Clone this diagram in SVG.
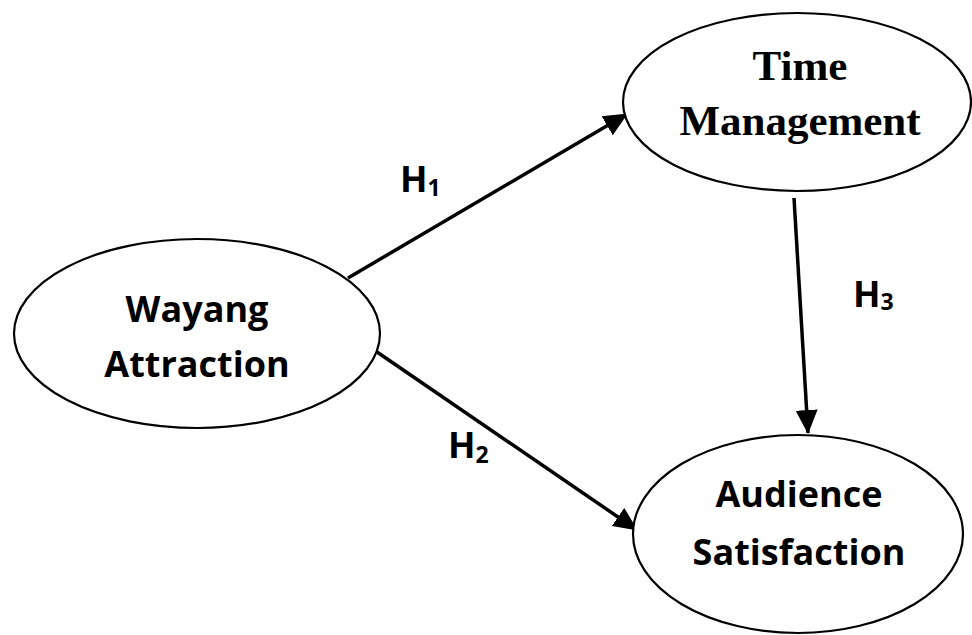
<svg xmlns="http://www.w3.org/2000/svg" width="972" height="635" viewBox="0 0 972 635">
<defs>
<style>
.node{fill:#fff;stroke:#000;stroke-width:2.2}
.sans{font-family:"Open Sans","Noto Sans","DejaVu Sans",sans-serif;font-weight:bold;font-size:36px;fill:#000;text-anchor:middle}
.serif{font-family:"Liberation Serif","Times New Roman",serif;font-weight:bold;font-size:43px;fill:#000;text-anchor:middle}
.edge{stroke:#000;stroke-width:3.5;fill:none;marker-end:url(#ah)}
.lbl{font-family:"Open Sans","Noto Sans","DejaVu Sans",sans-serif;font-weight:bold;font-size:36px;fill:#000}
.sub{font-size:23px}
</style>
<marker id="ah" markerUnits="userSpaceOnUse" markerWidth="24" markerHeight="24" viewBox="0 0 24 24" refX="23" refY="12" orient="auto">
<path d="M0,1 L24,12 L0,23 Z" fill="#000"/>
</marker>
</defs>
<g id="connectors">
<line class="edge" x1="348" y1="278" x2="627" y2="114"/>
<line class="edge" x1="377" y1="352" x2="637" y2="530"/>
<line class="edge" x1="794" y1="198" x2="808" y2="433"/>
</g>
<g id="labels">
<text class="lbl" x="400" y="192">H<tspan class="sub" dy="4">1</tspan></text>
<text class="lbl" x="448" y="458">H<tspan class="sub" dy="5">2</tspan></text>
<text class="lbl" x="853" y="307">H<tspan class="sub" dy="3">3</tspan></text>
</g>
<g id="wayang">
<ellipse class="node" cx="197" cy="333.5" rx="183" ry="94.5"/>
<text class="sans" x="197" y="322">Wayang</text>
<text class="sans" x="197" y="377">Attraction</text>
</g>
<g id="time">
<ellipse class="node" cx="797" cy="102" rx="174" ry="89"/>
<text class="serif" x="800" y="80">Time</text>
<text class="serif" x="800" y="135">Management</text>
</g>
<g id="audience">
<ellipse class="node" cx="798" cy="534" rx="165" ry="99"/>
<text class="sans" x="799" y="507">Audience</text>
<text class="sans" x="799" y="565">Satisfaction</text>
</g>
</svg>
